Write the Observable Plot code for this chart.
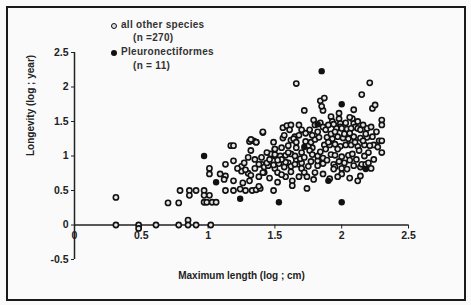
<!DOCTYPE html>
<html>
<head>
<meta charset="utf-8">
<script src="https://cdn.jsdelivr.net/npm/d3@7"></script>
<script src="https://cdn.jsdelivr.net/npm/@observablehq/plot@0.6"></script>
<style>
  html, body { margin: 0; padding: 0; background: #ffffff; }
  #wrap { position: relative; width: 471px; height: 305px; overflow: hidden; background: #fafafa; }
  #border { position: absolute; left: 6px; top: 6px; width: 460px; height: 295px; border: 2px solid #1a1a1a; box-sizing: border-box; }
  #chart { position: absolute; left: 0; top: 0; }
  .leg { position: absolute; font-family: "Liberation Sans", Arial, sans-serif; font-weight: bold; font-size: 10px; color: #333; letter-spacing: 0.3px; white-space: nowrap; }
  .mk { position: absolute; width: 4px; height: 4px; border-radius: 50%; }
</style>
</head>
<body>
<div id="wrap">
  <div id="border"></div>
  <div id="chart"></div>
  <div class="mk" style="left:111px;top:23px;border:1.5px solid #111;background:#ddd;"></div>
  <div class="leg" style="left:121px;top:19px;">all other species</div>
  <div class="leg" style="left:133px;top:32px;">(n =270)</div>
  <div class="mk" style="left:111px;top:50px;width:6px;height:6px;background:#111;"></div>
  <div class="leg" style="left:121px;top:46px;">Pleuronectiformes</div>
  <div class="leg" style="left:133px;top:60px;">(n = 11)</div>
</div>
<script>
// ---- data ----
const xTicks = [0, 0.5, 1, 1.5, 2, 2.5];
const xTickLabels = ["0", "0.5", "1", "1.5", "2", "2.5"];
const yTicks = [-0.5, 0, 0.5, 1, 1.5, 2, 2.5];
const yTickLabels = ["-0.5", "0", "0.5", "1", "1.5", "2", "2.5"];

// all other species: [log max length, log longevity]
const otherSpecies = [
  [0.31,0.40],[0.31,0],[0.48,0],[0.48,-0.05],[0.61,0],[0.70,0.32],[0.78,0.32],[0.79,0.5],[0.78,0],
  [0.85,0.07],[0.85,0.0],[0.86,0.5],[0.86,0.43],[0.91,0.5],[0.91,0],[0.97,0.5],[0.97,0.43],[0.97,0.33],
  [1.01,0.82],[1.01,0.74],[0.99,0.33],[1.03,0.33],[1.06,0.33],[1.02,0],[1.01,0.43],
  [1.13,0.5],[1.19,0.5],[1.24,0.52],[1.28,0.5],[1.33,0.5],[1.36,0.51],[1.39,0.53],[1.49,0.5],
  [1.09,0.74],[1.13,0.71],[1.12,0.66],[1.19,0.64],[1.26,0.61],[1.31,0.64],[1.38,0.56],[1.42,0.76],
  [1.13,0.88],[1.19,0.93],[1.25,0.85],[1.27,0.9],[1.25,0.78],[1.30,0.75],[1.32,0.72],
  [1.40,0.88],[1.42,0.84],[1.45,0.86],[1.50,0.82],
  [1.17,1.15],[1.19,1.15],[1.31,1.21],[1.34,1.22],[1.36,1.2],[1.32,1.08],[1.41,1.34],[1.49,1.2],[1.50,1.1],[1.50,1.0],[1.47,1.03],
  [1.58,0.70],[1.63,0.64],[1.63,0.57],[1.74,0.53],[1.79,0.66],[1.86,0.74],[1.91,0.67],[1.60,0.9],[1.62,0.85],[1.66,0.95],[1.68,0.88],[1.70,0.82],
  [1.38,0.88],[1.44,0.90],[1.49,0.87],[1.53,0.89],[1.58,0.91],[1.65,0.88],[1.70,0.90],[1.75,0.85],[1.82,0.86],[1.82,0.93],[1.82,1.0],
  [1.41,0.76],[1.52,0.76],[1.62,0.77],[1.72,0.76],[1.80,0.76],
  [1.50,1.02],[1.54,1.0],[1.58,1.01],[1.62,1.03],[1.65,1.0],[1.69,0.96],
  [1.50,1.10],[1.55,1.12],[1.60,1.15],[1.66,1.12],[1.78,1.12],[1.75,1.15],
  [1.62,1.23],[1.65,1.28],[1.68,1.30],[1.64,1.25],[1.73,1.21],[1.77,1.20],[1.80,1.24],[1.83,1.27],[1.56,1.26],
  [1.56,1.41],[1.59,1.44],[1.62,1.45],[1.61,1.38],[1.68,1.45],[1.73,1.33],[1.79,1.52],[1.80,1.45],[1.84,1.48],[1.86,1.42],[1.57,1.3],
  [1.66,2.05],[1.84,1.80],[1.87,1.84],[1.72,1.66],[1.86,1.66],[1.41,1.35],[1.32,1.24],[1.36,1.20],
  [2.21,2.06],[2.15,1.89],[2.23,1.69],[2.25,1.74],[2.09,1.67],[1.85,1.72],
  [1.98,1.62],[1.98,1.54],[1.99,1.47],[1.99,1.42],[1.92,1.57],[1.93,1.50],[2.08,1.54],[2.09,1.47],[2.10,1.42],[2.30,1.52],[2.30,1.45],[2.19,1.40],[2.22,1.42],
  [1.96,1.40],[2.00,1.40],[2.04,1.39],[2.07,1.40],[2.12,1.40],[2.14,1.38],
  [1.89,1.27],[1.93,1.25],[1.97,1.28],[2.01,1.26],[2.05,1.25],[2.09,1.28],[2.14,1.26],[2.19,1.27],[2.28,1.22],[2.30,1.22],
  [1.87,1.16],[1.91,1.16],[1.95,1.17],[1.99,1.14],[2.03,1.16],[2.07,1.16],[2.12,1.14],[2.17,1.16],[2.24,1.16],
  [1.92,1.02],[1.95,1.01],[2.00,0.99],[2.05,1.01],[2.08,1.03],[2.17,1.0],[2.20,1.05],[2.27,1.13],[2.30,1.05],[2.24,0.95],
  [1.94,0.88],[1.95,0.84],[2.00,0.82],[2.04,0.81],[2.09,0.86],[2.14,0.84],[2.15,0.88],[2.18,0.88],[1.86,0.89],
  [2.12,0.64],[2.14,0.71],[2.00,0.74],[1.94,0.81],
  [1.70,1.05],[1.72,0.98],[1.76,1.08],[1.78,1.02],[1.84,1.06],[1.88,1.10],[1.90,1.20],[1.92,1.32],[1.95,1.35],[1.97,1.10],
  [2.02,1.32],[2.06,1.33],[2.10,1.20],[2.13,1.08],[2.16,1.22],[2.18,1.32],[2.21,1.15],[2.23,1.28],[2.26,1.35],[1.76,1.38],
  [1.78,1.30],[1.82,1.35],[1.88,1.38],[1.90,1.45],[1.94,1.46],[2.03,1.48],[2.06,1.56],[2.12,1.50],[2.16,1.45],[1.70,1.38],
  [1.66,1.20],[1.60,1.05],[1.55,0.95],[1.57,0.84],[1.52,0.94],[1.46,0.95],[1.44,1.05],[1.40,0.98],[1.35,0.95],[1.30,0.98],
  [1.28,0.80],[1.22,0.82],[1.35,0.82],[1.38,0.70],[1.46,0.68],[1.52,0.62],[1.55,0.73],[1.68,0.70],[1.74,0.70],[1.77,0.92],
  [1.86,0.97],[1.89,0.94],[1.98,0.92],[2.02,0.90],[2.06,0.94],[2.11,0.95],[2.20,0.90],[2.22,0.82],[1.97,0.70],[2.06,0.68]
];

// Pleuronectiformes
const flatfish = [
  [0.97,1.0],[1.06,0.62],[1.24,0.38],[1.53,0.33],[2.0,0.33],[1.90,0.64],[2.18,0.81],[1.85,2.23],[2.0,1.75],[1.72,1.13],[1.82,1.46]
];

const xLabel = "Maximum length (log ; cm)";
const yLabel = "Longevity (log ; year)";

// ---- layout ----
const W = 471, H = 305, mL = 74, mR = 63, mT = 52, mB = 46;
const yDomain = [-0.5, 2.5];
const yPix = d3.scaleLinear(yDomain, [H - mB, mT]);
const axisShift = yPix(0) - (H - mB); // move bottom axis up to y = 0

const font = "'Liberation Sans', Arial, sans-serif";

const chart = Plot.plot({
  width: W, height: H,
  marginLeft: mL, marginRight: mR, marginTop: mT, marginBottom: mB,
  x: {domain: [0, 2.5]},
  y: {domain: yDomain},
  style: {background: "transparent", fontFamily: font, fontSize: "10.5px", fontWeight: "bold", color: "#222"},
  marks: [
    Plot.ruleX([0], {y1: -0.5, y2: 2.5, stroke: "#222", strokeWidth: 1.5}),
    Plot.ruleY([0], {x1: 0, x2: 2.5, stroke: "#222", strokeWidth: 1.5}),
    Plot.axisY({ticks: yTicks, tickSize: 3, tickPadding: 3, label: null, tickFormat: (d) => yTickLabels[yTicks.indexOf(d)], stroke: "#222", fill: "#222"}),
    Plot.axisX({ticks: xTicks, tickSize: 4, tickPadding: 3, label: null, dy: axisShift, tickFormat: (d) => xTickLabels[xTicks.indexOf(d)], stroke: "#222", fill: "#222"}),
    Plot.text([xLabel], {frameAnchor: "bottom", dy: 19, fontSize: 10, fill: "#222"}),
    Plot.text([yLabel], {frameAnchor: "left", rotate: -90, dx: -44, fontSize: 10, fill: "#222"}),
    Plot.dot(otherSpecies, {x: d => d[0], y: d => d[1], r: 2.6, stroke: "#111", strokeWidth: 1.6, fill: "#e6e6e6"}),
    Plot.dot(flatfish, {x: d => d[0], y: d => d[1], r: 3.2, fill: "#111", stroke: "none"})
  ]
});
document.getElementById("chart").appendChild(chart);
</script>
</body>
</html>
